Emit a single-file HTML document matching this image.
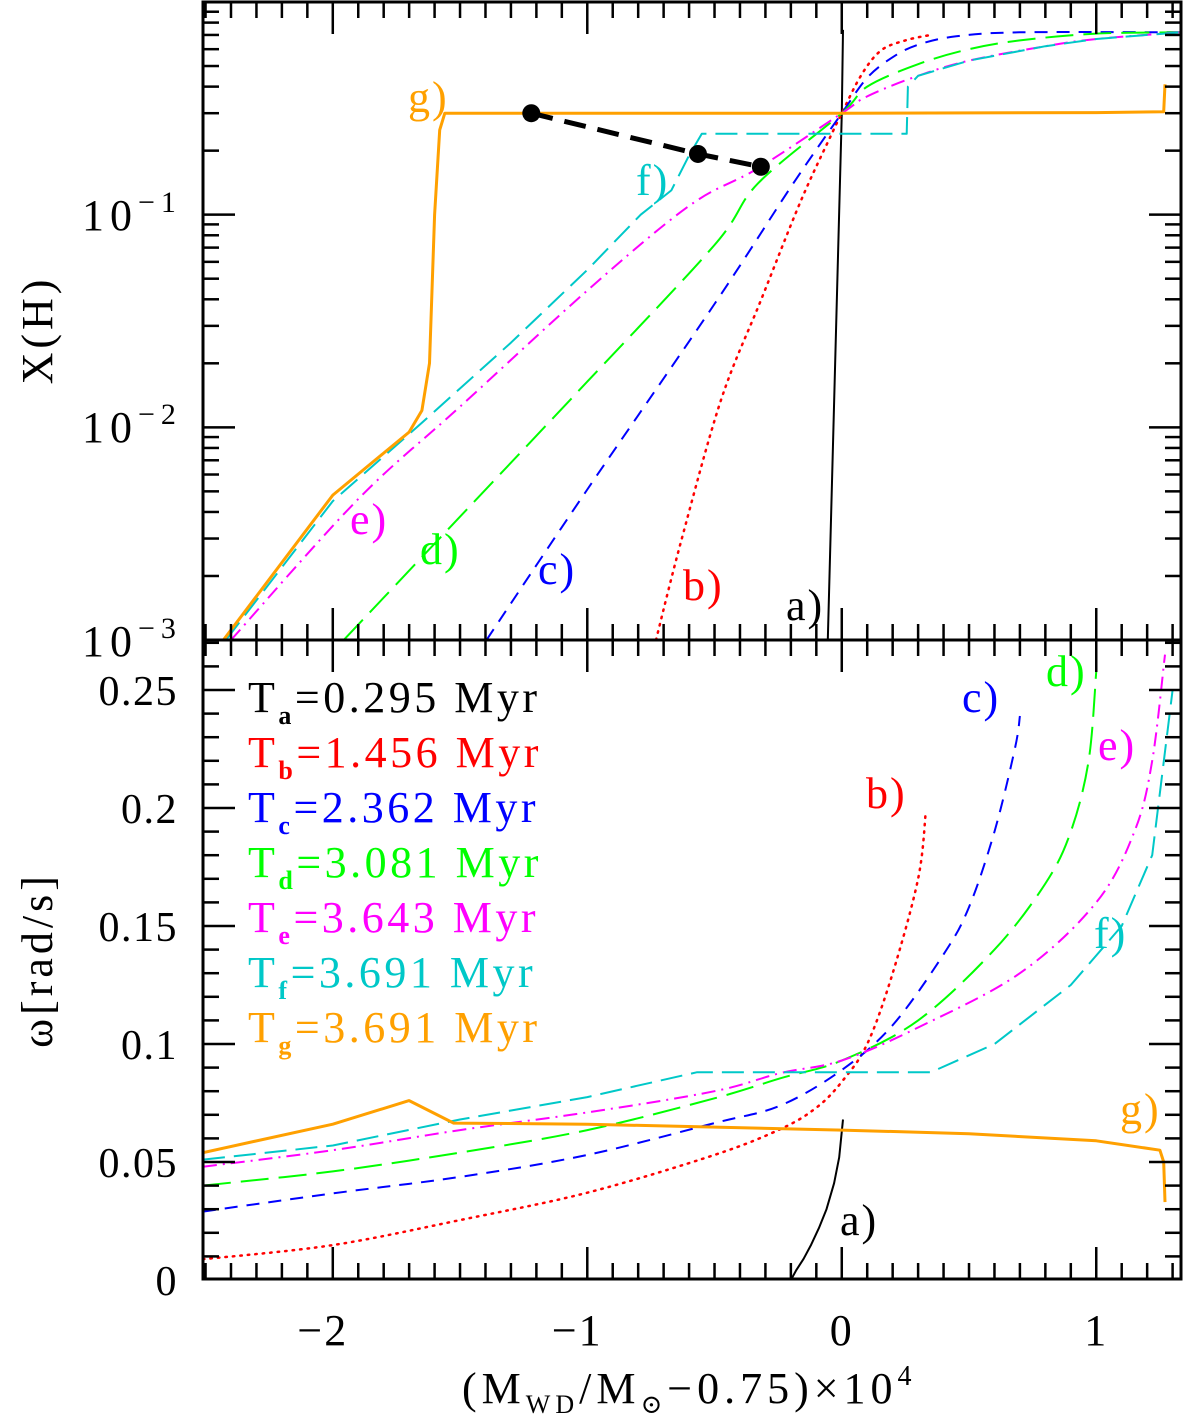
<!DOCTYPE html>
<html><head><meta charset="utf-8"><style>
body{margin:0;background:#fff}
svg text{font-family:"Liberation Serif","DejaVu Serif",serif}
</style></head><body>
<svg id="c" width="1200" height="1416" viewBox="0 0 1200 1416" xmlns="http://www.w3.org/2000/svg"></svg>
<script>
// ---- data (top panel: X(H) vs mass coordinate) ----
const topA_x=[-0.055,0,0.005];
const topA_y=[0.001,0.30,0.74];
const topB_x=[-0.73,-0.63,-0.475,-0.318,-0.161,-0.043,0,0.075,0.153,0.25,0.35];
const topB_y=[0.001,0.00295,0.0134,0.0395,0.116,0.235,0.30,0.45,0.59,0.66,0.70];
const topC_x=[-1.396,-1.0,-0.5,-0.2,0,0.1,0.2,0.3,0.45,0.7,1.33];
const topC_y=[0.001,0.0051,0.038,0.135,0.30,0.44,0.55,0.63,0.69,0.72,0.72];
const topD_x=[-1.957,-1.5,-1.0,-0.5,-0.33,0,0.1,0.3,0.5,0.7,1.0,1.33];
const topD_y=[0.001,0.0038,0.0164,0.072,0.14,0.30,0.40,0.51,0.60,0.66,0.71,0.72];
const topE_x=[-2.4,-1.9,-1.5,-1.0,-0.6,-0.33,0,0.1,0.3,0.5,0.8,1.0,1.33];
const topE_y=[0.001,0.0046,0.0125,0.044,0.11,0.165,0.30,0.36,0.45,0.53,0.62,0.67,0.72];
const topF_x=[-2.42,-2.0,-1.65,-1.3,-1.0,-0.79,-0.67,-0.6,-0.55,0.255,0.26,0.3,0.5,0.8,1.0,1.33];
const topF_y=[0.001,0.0045,0.0105,0.025,0.055,0.10,0.13,0.19,0.24,0.24,0.40,0.45,0.53,0.62,0.67,0.72];
const topG_x=[-2.43,-2.0,-1.7,-1.65,-1.62,-1.6,-1.58,-1.56,0,1.0,1.265,1.27];
const topG_y=[0.001,0.0048,0.0095,0.012,0.02,0.1,0.25,0.30,0.30,0.302,0.305,0.41];
const dots_x=[-1.22,-0.565,-0.318];
const dots_y=[0.30,0.193,0.168];
// ---- data (bottom panel: omega) ----
const botA_x=[-2.51,-0.2,-0.18,-0.15,-0.12,-0.09,-0.06,-0.03,-0.01,0.005];
const botA_y=[0,0,0.004,0.009,0.015,0.022,0.030,0.041,0.052,0.068];
const botB_x=[-2.51,-2.0,-1.5,-1.0,-0.5,-0.24,-0.1,0,0.1,0.2,0.3,0.33];
const botB_y=[0.0088,0.0148,0.0254,0.037,0.053,0.064,0.073,0.084,0.10,0.13,0.17,0.198];
const botC_x=[-2.51,-2.0,-1.5,-1.0,-0.5,-0.24,0,0.2,0.4,0.5,0.6,0.68,0.7];
const botC_y=[0.029,0.0367,0.0437,0.053,0.0665,0.074,0.089,0.108,0.138,0.158,0.19,0.225,0.239];
const botD_x=[-2.51,-2.0,-1.5,-1.0,-0.5,-0.24,0,0.3,0.6,0.8,0.9,0.97,1.0];
const botD_y=[0.040,0.046,0.054,0.0635,0.077,0.0855,0.093,0.11,0.14,0.168,0.19,0.22,0.258];
const botE_x=[-2.51,-2.0,-1.5,-1.0,-0.5,-0.24,0,0.3,0.7,1.0,1.15,1.22,1.27];
const botE_y=[0.048,0.055,0.0635,0.071,0.080,0.0877,0.093,0.107,0.13,0.16,0.19,0.22,0.265];
const botF_x=[-2.51,-2.0,-1.5,-1.0,-0.57,0.35,0.6,0.9,1.1,1.22,1.3];
const botF_y=[0.051,0.057,0.068,0.0775,0.088,0.088,0.10,0.125,0.15,0.18,0.25];
const botG_x=[-2.51,-2.0,-1.7,-1.525,-1.0,0,0.5,1.0,1.25,1.265,1.27];
const botG_y=[0.054,0.066,0.076,0.0665,0.066,0.0635,0.062,0.059,0.055,0.05,0.033];
const xTicks=[-2,-1,0,1];
const xTickLabels=["\u22122","\u22121","0","1"];
const wTicks=[0,0.05,0.1,0.15,0.2,0.25];
const wTickLabels=["0","0.05","0.1","0.15","0.2","0.25"];
const legendLabels=["a","b","c","d","e","f","g"];
const legendTimes=["0.295","1.456","2.362","3.081","3.643","3.691","3.691"];

// ---- scales ----
const L=203,R=1181,T=2,M=640,B=1279;
const X0=-2.51,X1=1.333;
const sx=v=>L+(v-X0)/(X1-X0)*(R-L);
const syTop=v=>M-(Math.log10(v)+3)*(M-T)/3.0;
const syBot=v=>1280-v*2360;
const svg=document.getElementById('c');
const NS='http://www.w3.org/2000/svg';
function mk(tag,attrs,parent){const e=document.createElementNS(NS,tag);for(const k in attrs)e.setAttribute(k,attrs[k]);(parent||svg).appendChild(e);return e;}
function txt(s,x,y,size,fill,anchor,name,ls){const t=mk('text',{x:x,y:y,'font-size':size,fill:fill,'text-anchor':anchor||'start','letter-spacing':ls||0});t.textContent=s;return t;}

const clipT=mk('clipPath',{id:'ct'});mk('rect',{x:L,y:T,width:R-L,height:M-T},clipT);
const clipB=mk('clipPath',{id:'cb'});mk('rect',{x:L,y:M,width:R-L,height:B-M},clipB);
const gT=mk('g',{'clip-path':'url(#ct)'});
const gB=mk('g',{'clip-path':'url(#cb)'});

function pathD(P,smooth){
  if(!smooth||P.length<3) return P.map((p,i)=>(i?'L':'M')+p[0].toFixed(1)+' '+p[1].toFixed(1)).join(' ');
  let d='M'+P[0][0].toFixed(1)+' '+P[0][1].toFixed(1);
  for(let i=0;i<P.length-1;i++){
    const p0=P[Math.max(0,i-1)],p1=P[i],p2=P[i+1],p3=P[Math.min(P.length-1,i+2)];
    const c1=[p1[0]+(p2[0]-p0[0])/6,p1[1]+(p2[1]-p0[1])/6];
    const c2=[p2[0]-(p3[0]-p1[0])/6,p2[1]-(p3[1]-p1[1])/6];
    d+=' C'+c1[0].toFixed(1)+' '+c1[1].toFixed(1)+' '+c2[0].toFixed(1)+' '+c2[1].toFixed(1)+' '+p2[0].toFixed(1)+' '+p2[1].toFixed(1);
  }
  return d;
}
function line(xs,ys,fy,g,color,w,dash,name,smooth){
  const P=xs.map((x,i)=>[sx(x),fy(ys[i])]);
  const p=mk('path',{d:pathD(P,smooth),fill:'none',stroke:color,'stroke-width':w,'stroke-dasharray':dash||'none','stroke-linecap':dash&&dash.startsWith('1.5')?'round':'butt','stroke-linejoin':'round'},g);
  
}
const styles={a:['#000',2,''],b:['#f00',2.5,'1.5 6'],c:['#00f',2,'13 9'],d:['#0f0',2,'28 10'],e:['#f0f',2,'14 6 2 6'],f:['#00c8c8',2,'22 9'],g:['#ffa000',3,'']};
line(topA_x,topA_y,syTop,gT,...styles.a,'top-curve-a',false);
line(topB_x,topB_y,syTop,gT,...styles.b,'top-curve-b',true);
line(topC_x,topC_y,syTop,gT,...styles.c,'top-curve-c',true);
line(topD_x,topD_y,syTop,gT,...styles.d,'top-curve-d',true);
line(topE_x,topE_y,syTop,gT,...styles.e,'top-curve-e',true);
line(topF_x,topF_y,syTop,gT,...styles.f,'top-curve-f',false);
line(topG_x,topG_y,syTop,gT,...styles.g,'top-curve-g',false);
line(dots_x,dots_y,syTop,gT,'#000',5,'22 12','dashed-connector',false);
dots_x.forEach((x,i)=>{const c=mk('circle',{cx:sx(x),cy:syTop(dots_y[i]),r:9,fill:'#000'},gT);});

line(botA_x,botA_y,syBot,gB,...styles.a,'bottom-curve-a',false);
line(botB_x,botB_y,syBot,gB,...styles.b,'bottom-curve-b',true);
line(botC_x,botC_y,syBot,gB,...styles.c,'bottom-curve-c',true);
line(botD_x,botD_y,syBot,gB,...styles.d,'bottom-curve-d',true);
line(botE_x,botE_y,syBot,gB,...styles.e,'bottom-curve-e',true);
line(botF_x,botF_y,syBot,gB,...styles.f,'bottom-curve-f',false);
line(botG_x,botG_y,syBot,gB,...styles.g,'bottom-curve-g',false);

// ---- frames & ticks ----
const ax=mk('g',{stroke:'#000','stroke-width':3,fill:'none'});

mk('rect',{x:L,y:T,width:R-L,height:B-T},ax);
mk('line',{x1:L,y1:M,x2:R,y2:M},ax);
function tk(x1,y1,x2,y2){mk('line',{x1:x1,y1:y1,x2:x2,y2:y2,'stroke-width':2.5},ax);}
for(let i=-25;i<=13;i++){const v=i/10;const x=sx(v);const maj=(i%10===0);const len=maj?32:16;
  tk(x,T,x,T+len);tk(x,M,x,M-len);tk(x,M,x,M+len);tk(x,B,x,B-len);}
for(let d=-3;d<0;d++){for(let k=1;k<10;k++){const v=k*Math.pow(10,d);const y=syTop(v);const len=k===1?32:16;if(y<T+1||y>M-1)continue;tk(L,y,L+len,y);tk(R,y,R-len,y);}}
for(let i=1;i<=27;i++){const v=i/100;const y=syBot(v);if(y<M+1)continue;const len=(i%5===0)?32:16;tk(L,y,L+len,y);tk(R,y,R-len,y);}

// ---- tick labels ----
xTicks.forEach((v,i)=>txt(xTickLabels[i],sx(v)+(v<0?-10:0),1345,44,'#000','middle','x-tick-label',2));
wTicks.forEach((v,i)=>txt(wTickLabels[i],178,syBot(v)+15,42,'#000','end','omega-tick-label',1.5));
[["-1",214],["-2",426],["-3",640]].forEach(([e,y])=>{const t=txt('10',82,y+16,44,'#000','start','log-tick-label',6);const s=mk('tspan',{'font-size':30,dy:-18},t);s.textContent='\u2212'+e.slice(1);});

// axis titles
const yt=txt('X(H)',0,0,44,'#000','middle','y-axis-title-top',4);yt.setAttribute('transform','translate(52,330) rotate(-90)');
const yb=txt('\u03c9[rad/s]',0,0,44,'#000','middle','y-axis-title-bottom',4);yb.setAttribute('transform','translate(52,960) rotate(-90)');
const xt=txt('(M',462,1403,44,'#000','start','x-axis-title',5);
let s1=mk('tspan',{'font-size':26,dy:10},xt);s1.textContent='WD';
let s2=mk('tspan',{dy:-10},xt);s2.textContent='/M';
let s3=mk('tspan',{'font-size':26,dy:10},xt);s3.textContent='\u2299';
let s4=mk('tspan',{dy:-10},xt);s4.textContent='\u22120.75)\u00d710';
let s5=mk('tspan',{'font-size':28,dy:-18},xt);s5.textContent='4';

// ---- legend ----
const cols=['#000','#f00','#00f','#0f0','#f0f','#00c8c8','#ffa000'];
legendLabels.forEach((l,i)=>{const y=712+i*55;const t=txt('T',248,y,44,cols[i],'start','legend-entry-'+l,3.5);
  const s=mk('tspan',{'font-size':26,'font-weight':'bold',dy:12},t);s.textContent=l;
  const s2=mk('tspan',{dy:-12},t);s2.textContent='='+legendTimes[i]+' Myr';});

// ---- curve labels ----
[['g)',408,112,'#ffa000'],['f)',636,195,'#00c8c8'],['e)',350,534,'#f0f'],['d)',420,564,'#0f0'],['c)',538,584,'#00f'],['b)',683,600,'#f00'],['a)',786,620,'#000'],
 ['c)',962,712,'#00f'],['d)',1046,686,'#0f0'],['e)',1098,760,'#f0f'],['b)',866,808,'#f00'],['f)',1094,948,'#00c8c8'],['g)',1120,1124,'#ffa000'],['a)',840,1235,'#000']]
 .forEach(([s,x,y,c])=>txt(s,x,y,44,c,'start','curve-label',2));
</script>
</body></html>
